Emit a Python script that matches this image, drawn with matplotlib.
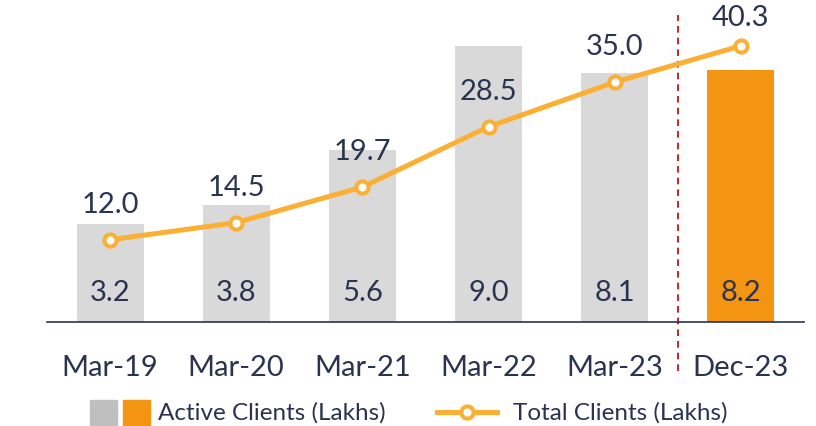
import matplotlib
matplotlib.use("Agg")
import matplotlib.pyplot as plt
from matplotlib.patches import Rectangle
from matplotlib.lines import Line2D

plt.rcParams['font.family'] = ['Lato', 'DejaVu Sans']

categories = ["Mar-19", "Mar-20", "Mar-21", "Mar-22", "Mar-23", "Dec-23"]
active_clients = [3.2, 3.8, 5.6, 9.0, 8.1, 8.2]
total_clients = [12.0, 14.5, 19.7, 28.5, 35.0, 40.3]
bar_colors = ["#D9D9D9"] * 5 + ["#F39412"]

TEXT = "#283450"
LINE = "#FBB034"

fig = plt.figure(figsize=(8.16, 4.27), dpi=100)
ax = fig.add_axes([47/816, 1 - 323/427, (804-47)/816, (323-16)/427])
ax2 = ax.twinx()

x = list(range(len(categories)))
bars = ax.bar(x, active_clients, width=0.53, color=bar_colors, zorder=2)
ax.set_ylim(0, 10)
ax.set_xlim(-0.5, 5.5)

for xi, v in zip(x, active_clients):
    ax.text(xi, 0.97, f"{v:.1f}", ha="center", va="center", fontsize=21, color=TEXT)

ax2.plot(x, total_clients, color=LINE, lw=3.6, marker="o", ms=8.8, mew=2.9,
         mfc="white", mec=LINE, zorder=3)
ax2.set_ylim(0, 44.8)
for i, (xi, v) in enumerate(zip(x, total_clients)):
    off = 20.5 if i == len(x) - 1 else 26
    ax2.annotate(f"{v:.1f}", (xi, v), xytext=(0, off), textcoords="offset points",
                 ha="center", va="center", fontsize=21, color=TEXT)

# dashed separator
ax.axvline(4.5, ymin=-0.16, ymax=1.0, color="#C00000", ls=(0, (4, 3)), lw=1.2, clip_on=False)

for a in (ax, ax2):
    for s in ("top", "right", "left"):
        a.spines[s].set_visible(False)
    a.set_yticks([])
ax.spines["bottom"].set_color(TEXT)
ax.spines["bottom"].set_linewidth(1.2)
ax2.spines["bottom"].set_visible(False)
ax.set_xticks(x)
ax.set_xticklabels(categories, fontsize=21, color=TEXT)
ax.tick_params(axis="x", length=0, pad=23)

# legend
fig.patches.append(Rectangle((90/816, 1 - 427/427), 27/816, 26/427, transform=fig.transFigure,
                             color="#BFBFBF"))
fig.patches.append(Rectangle((123/816, 1 - 427/427), 27/816, 26/427, transform=fig.transFigure,
                             color="#F39412"))
fig.text(158/816, 1 - 413/427, "Active Clients (Lakhs)", fontsize=17.5, color=TEXT, va="center")
fig.lines.append(Line2D([437/816, 497/816], [1 - 413/427] * 2, transform=fig.transFigure,
                        color=LINE, lw=3.6))
fig.lines.append(Line2D([467/816], [1 - 413/427], transform=fig.transFigure,
                        color=LINE, marker="o", ms=8.8, mew=2.9, mfc="white", mec=LINE))
fig.text(513/816, 1 - 413/427, "Total Clients (Lakhs)", fontsize=17.5, color=TEXT, va="center")

fig.savefig("out.png", dpi=100)
